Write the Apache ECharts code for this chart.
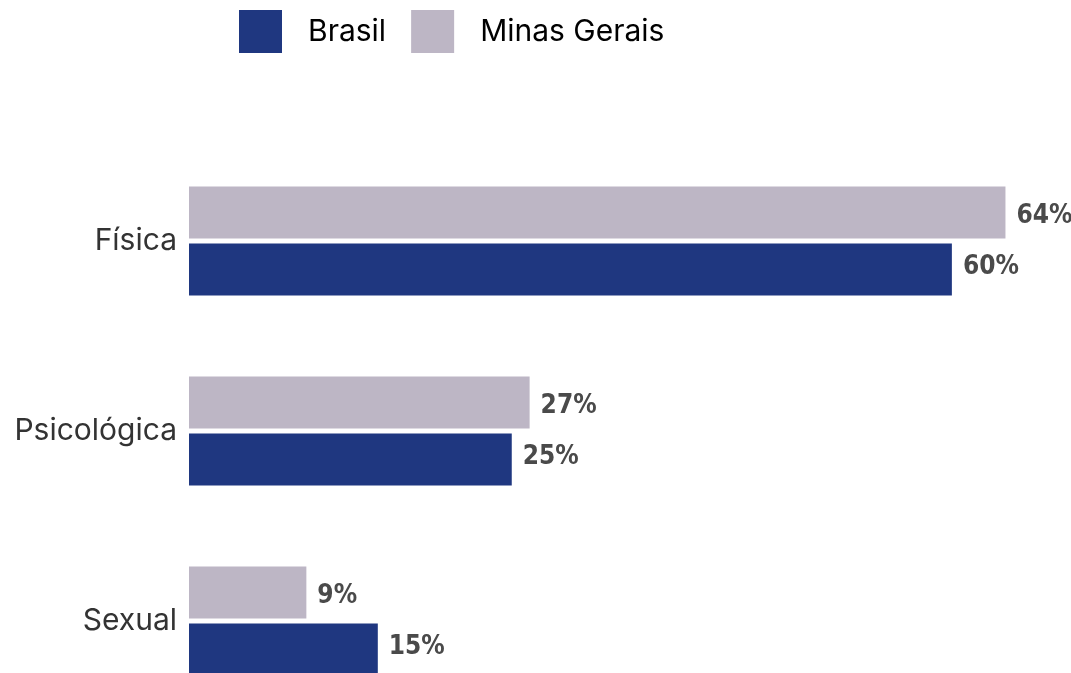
<!DOCTYPE html>
<html>
<head>
<meta charset="utf-8">
<script src="https://cdn.jsdelivr.net/npm/echarts@6/dist/echarts.min.js"></script>
<style>
  html, body { margin: 0; padding: 0; background: #fff; }
  #chart { width: 1071px; height: 673px; }
</style>
</head>
<body>
<div id="chart"></div>
<script>
// tipos de violência (de cima para baixo)
const categories = ['Física', 'Psicológica', 'Sexual']
const seriesNames = ['Brasil', 'Minas Gerais']
// valores em %
const brasilValues = [59.8, 25.3, 14.8]
const minasValues = [64.0, 26.7, 9.2]

const colors = {
  brasil: '#1f3780',
  minas: '#bdb6c5'
}

// rótulo de valor à direita da barra
const makeLabel = offsetY => ({
  show: true,
  position: 'right',
  distance: 11,
  offset: [0, offsetY],
  fontFamily: '"DejaVu Sans Condensed", "Liberation Sans Narrow", sans-serif',
  fontWeight: 'bold',
  fontSize: 26,
  color: '#4a4a4a',
  formatter: p => Math.round(p.value) + '%'
})

const myChart = echarts.init(document.getElementById('chart'))

myChart.setOption({
  animation: false,
  legend: {
    data: seriesNames,
    top: 5,
    left: 234,
    itemWidth: 43,
    itemHeight: 43,
    itemGap: 25,
    icon: 'rect',
    textStyle: {
      fontFamily: 'Inter, Roboto, sans-serif',
      fontSize: 30,
      color: '#000',
      padding: [0, 0, 0, 21]
    }
  },
  grid: {
    left: 189,
    top: 146,
    width: 893,
    height: 570,
    outerBoundsMode: 'none'
  },
  xAxis: {
    type: 'value',
    min: 0,
    max: 70,
    show: false
  },
  yAxis: {
    type: 'category',
    data: categories,
    inverse: true,
    axisLine: { show: false },
    axisTick: { show: false },
    axisLabel: {
      margin: 12,
      fontFamily: 'Inter, Roboto, sans-serif',
      fontSize: 30,
      color: '#333'
    }
  },
  series: [
    {
      name: 'Minas Gerais',
      type: 'bar',
      barWidth: 52,
      barGap: '10%',
      color: colors.minas,
      label: makeLabel(4),
      data: minasValues
    },
    {
      name: 'Brasil',
      type: 'bar',
      barWidth: 52,
      barGap: '10%',
      color: colors.brasil,
      label: makeLabel(-2),
      data: brasilValues
    }
  ]
})
</script>
</body>
</html>
